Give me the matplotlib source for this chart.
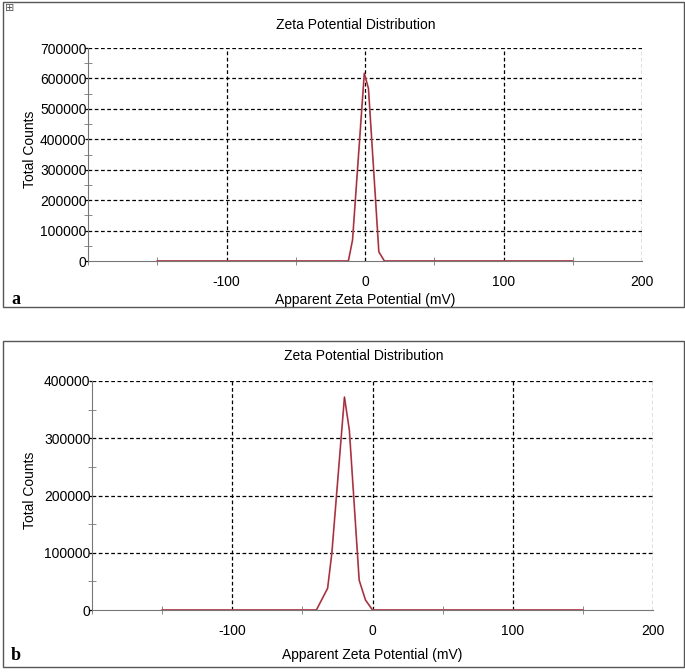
import numpy as np
import matplotlib
matplotlib.use("Agg")
import matplotlib.pyplot as plt
from matplotlib.patches import Rectangle
from matplotlib.ticker import MultipleLocator

plt.rcParams['font.family'] = ['Liberation Sans', 'DejaVu Sans']
plt.rcParams['axes.unicode_minus'] = False

# panel a data (mV, counts)
a_x = [-150, -12, -9, -0.5, 2.5, 10, 14, 150]
a_y = [0, 0, 69000, 617000, 567000, 30000, 0, 0]
# panel b data
b_x = [-150, -40, -32, -29, -20, -16.5, -9.5, -5, 0, 150]
b_y = [0, 0, 38000, 99000, 372000, 314000, 52000, 17500, 0, 0]

a_yticks = [0, 100000, 200000, 300000, 400000, 500000, 600000, 700000]
b_yticks = [0, 100000, 200000, 300000, 400000]
xticks = [-100, 0, 100, 200]

W, H = 685, 672
fig = plt.figure(figsize=(W / 100, H / 100), dpi=100)


def fx(px):
    return px / W


def fy(py):
    return 1 - py / H


def panel(box, axrect, xs, ys, yticks, ymax, title_y, xlab_y, letter):
    x0, y0, x1, y1 = box
    fig.patches.append(Rectangle((fx(x0), fy(y1)), fx(x1 - x0), (y1 - y0) / H,
                                 transform=fig.transFigure, fill=False,
                                 edgecolor='#555555', linewidth=1.0))
    l, t, r, b = axrect
    ax = fig.add_axes([fx(l), fy(b), fx(r - l), (b - t) / H])
    ax.set_xlim(-200, 200)
    ax.set_ylim(0, ymax)

    # dashed grid
    for xv in xticks:
        ax.axvline(xv, color='black', ls=(0, (3, 2)), lw=0.9, zorder=1)
    for yv in yticks[1:]:
        ax.axhline(yv, color='black', ls=(0, (3, 2)), lw=0.9, zorder=1)

    ax.plot(xs, ys, color='#e05a66', lw=1.3, zorder=3)
    ax.plot(xs, ys, color='#7a3040', lw=0.6, zorder=4)

    for s in ['top', 'right']:
        ax.spines[s].set_visible(False)
    ax.spines['left'].set_color('#777777')
    ax.spines['bottom'].set_color('#777777')
    ax.spines['bottom'].set_zorder(2)

    ax.set_xticks(xticks)
    ax.set_yticks(yticks)
    ax.xaxis.set_minor_locator(MultipleLocator(50))
    ax.yaxis.set_minor_locator(MultipleLocator(50000))
    ax.tick_params(axis='x', which='major', length=0, pad=10, labelsize=10)
    ax.tick_params(axis='x', which='minor', length=6, direction='inout', color='#777777')
    ax.tick_params(axis='y', which='major', length=2, width=0.9, pad=-1, labelsize=10,
                   color='black')
    ax.tick_params(axis='y', which='minor', length=6, direction='inout', color='#777777')
    ax.set_facecolor('none')

    fig.text(fx((l + r) / 2 - 9), fy(title_y), 'Zeta Potential Distribution',
             ha='center', va='center', fontsize=10)
    fig.text(fx((l + r) / 2), fy(xlab_y), 'Apparent Zeta Potential (mV)',
             ha='center', va='center', fontsize=10)
    fig.text(fx(30), fy((t + b) / 2 - 5), 'Total Counts', rotation=90,
             ha='center', va='center', fontsize=10)
    fig.text(fx(16), fy(xlab_y), letter, ha='center', va='center', fontsize=13,
             fontweight='bold', family='Liberation Serif')
    return ax


panel((3, 2, 684, 307), (88, 48, 642, 261), a_x, a_y, a_yticks, 700000,
      25, 300, 'a')
panel((3, 341, 684, 667), (92, 381, 653, 610), b_x, b_y, b_yticks, 400000,
      356, 655, 'b')

fig.text(fx(10), fy(8), '\u229e', ha='center', va='center', fontsize=8,
         color='#555555', family='DejaVu Sans')

fig.savefig('out.png', dpi=100)
